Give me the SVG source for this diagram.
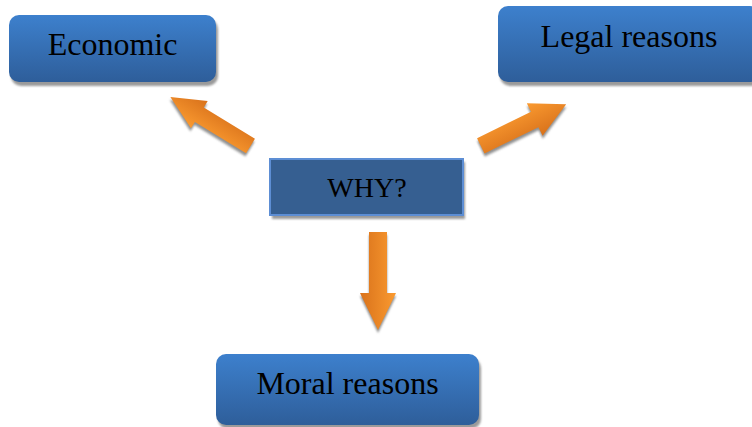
<svg xmlns="http://www.w3.org/2000/svg" width="752" height="427" viewBox="0 0 752 427">
<defs>
<linearGradient id="boxGrad" x1="0" y1="0" x2="0" y2="1">
<stop offset="0" stop-color="#3d80cd"/>
<stop offset="1" stop-color="#2e5e9a"/>
</linearGradient>
<linearGradient id="arrGrad" x1="0" y1="0" x2="0" y2="1">
<stop offset="0" stop-color="#fa9a30"/>
<stop offset="1" stop-color="#d9721b"/>
</linearGradient>
<filter id="blur" x="-20%" y="-20%" width="140%" height="140%">
<feGaussianBlur stdDeviation="1"/>
</filter>
<path id="arrDown" d="M0,-9 L61,-9 L61,-18 L98,0 L61,18 L61,9 L0,9Z"/>
<path id="arrLeft" d="M0,-8.5 L60,-8.5 L60,-16 L94,0 L60,16 L60,8.5 L0,8.5Z"/>
<path id="arrRight" d="M0,-8.5 L60,-8.5 L60,-18 L95,0 L60,18 L60,8.5 L0,8.5Z"/>
</defs>
<style>
.box{fill:url(#boxGrad);}
.shadow{fill:#9a9a9a;filter:url(#blur);}
.why{fill:#365f91;stroke:#5d8ed4;stroke-width:2;}
.lbl{font-family:"Liberation Serif","Times New Roman",serif;font-size:32px;fill:#000;text-anchor:middle;}
.lblw{font-family:"Liberation Serif","Times New Roman",serif;font-size:28px;fill:#000;text-anchor:middle;}
.arr{fill:url(#arrGrad);}
.ashadow{fill:#8f8f8f;filter:url(#blur);}
</style>
<g id="connectors">
<use href="#arrLeft" class="ashadow" transform="translate(250,149) rotate(211.5)"/>
<use href="#arrLeft" class="arr" transform="translate(250.5,146) rotate(211.5)"/>
<use href="#arrRight" class="ashadow" transform="translate(481,148.8) rotate(-26)"/>
<use href="#arrRight" class="arr" transform="translate(480.8,145.8) rotate(-26)"/>
<use href="#arrDown" class="ashadow" transform="translate(378,235) rotate(90)"/>
<use href="#arrDown" class="arr" transform="translate(378,232) rotate(90)"/>
</g>
<g id="economic">
<rect class="shadow" x="11" y="19" width="207" height="67" rx="10"/>
<rect class="box" x="9" y="15" width="207" height="67" rx="10"/>
<text class="lbl" x="112.5" y="55">Economic</text>
</g>
<g id="legal">
<rect class="shadow" x="500" y="10" width="262" height="76" rx="10"/>
<rect class="box" x="498" y="6" width="262" height="76" rx="10"/>
<text class="lbl" x="629" y="47">Legal reasons</text>
</g>
<g id="why">
<rect class="shadow" x="272" y="162" width="193" height="57"/>
<rect class="why" x="270" y="159" width="193" height="56"/>
<text class="lblw" x="367" y="197">WHY?</text>
</g>
<g id="moral">
<rect class="shadow" x="218" y="358" width="263" height="71" rx="10"/>
<rect class="box" x="216" y="354" width="263" height="71" rx="10"/>
<text class="lbl" x="347.5" y="394">Moral reasons</text>
</g>
</svg>
